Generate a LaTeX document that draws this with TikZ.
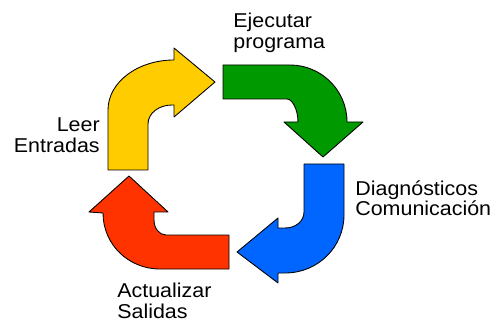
\documentclass[tikz,border=0pt]{standalone}
\usepackage{fontspec}
\setmainfont[FakeStretch=1.07]{Liberation Sans}
\usepackage{xcolor}
\definecolor{amarillo}{HTML}{FFCC00}
\definecolor{verde}{HTML}{009900}
\definecolor{azul}{HTML}{0066FF}
\definecolor{rojo}{HTML}{FF3300}
\tikzset{
  flecha/.style={draw=black, line width=0.5pt, line join=round},
  etiqueta/.style={inner sep=0pt, font=\fontsize{11.4}{11.8}\selectfont}
}

\begin{document}
\begin{tikzpicture}[x=0.02cm, y=-0.02cm]
      \useasboundingbox (0,0) rectangle (500,324);

      % flechas
      \fill[amarillo, flecha] (108,170) -- (108,110) .. controls (108,82) and (138,60) .. (174,60)
        -- (174,48) -- (215,82) -- (174,117) -- (174,105) -- (172,105)
        .. controls (159,105) and (148,113) .. (148,124) -- (148,170) -- cycle;
      \fill[verde, flecha] (223,65) -- (290,65) .. controls (321,65) and (347,90) .. (347,122)
        -- (363,122) -- (323,157) -- (284,122) -- (298,122)
        .. controls (298,109) and (292,99) .. (287,99) -- (223,99) -- cycle;
      \fill[azul, flecha] (304,164) -- (344,164) -- (344,215) .. controls (344,247) and (318,273) .. (285,273)
        -- (278,273) -- (278,283) -- (237,252) -- (278,218) -- (278,228) -- (285,228)
        .. controls (296,228) and (304,221) .. (304,212) -- cycle;
      \fill[rojo, flecha] (229,235) -- (229,269) -- (160,269) .. controls (128,269) and (103,244) .. (103,213)
        -- (89,212) -- (129,176) -- (168,212) -- (154,212) -- (154,220)
        .. controls (154,228) and (159,235) .. (166,235) -- cycle;

      % textos
      \node[etiqueta, anchor=north west, align=left] (ejecutar) at (233,12.5) {Ejecutar\\programa};
      \node[etiqueta, anchor=north west, align=left] (diagnosticos) at (355,180) {Diagnósticos\\Comunicación};
      \node[etiqueta, anchor=north west, align=left] (actualizar) at (117,283) {Actualizar\\Salidas};
      \node[etiqueta, anchor=north east, align=right] (leer) at (100,117.7) {Leer\\Entradas};
    \end{tikzpicture}
\end{document}
